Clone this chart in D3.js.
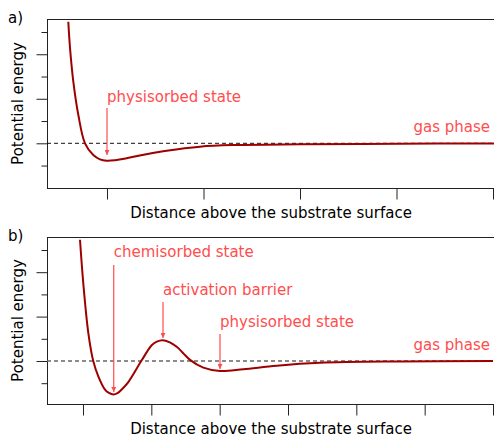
<!DOCTYPE html>
<html>
<head>
<meta charset="utf-8">
<script src="https://cdn.jsdelivr.net/npm/d3@7"></script>
<style>
  body { margin: 0; background: #fff; }
  svg { display: block; font-family: "DejaVu Sans", sans-serif; }
</style>
</head>
<body>
<svg id="chart" width="494" height="441"></svg>
<script>
// curve a: physisorption only (x in tick units, y in tick units)
const distA = [0.599, 0.617, 0.651, 0.703, 0.772, 0.858, 0.927, 0.997, 1.08, 1.238, 1.42, 1.619, 1.964, 2.306, 3.0, 4.036, 5.01];
const energyA = [5.46, 4.27, 2.77, 1.27, 0.0, -0.53, -0.72, -0.78, -0.76, -0.64, -0.48, -0.33, -0.15, -0.08, -0.045, -0.02, -0.005];

// curve b: chemisorption with activation barrier
const distB = [0.956, 1.004, 1.078, 1.151, 1.224, 1.322, 1.38, 1.443, 1.505, 1.58, 1.663, 1.859, 2.005, 2.08, 2.163, 2.271, 2.376, 2.47, 2.566, 2.761, 3.005, 3.346, 3.835, 4.468, 5.64, 7.0];
const energyB = [5.46, 3.51, 1.26, -0.01, -0.69, -1.29, -1.44, -1.51, -1.45, -1.24, -0.95, 0.03, 0.71, 0.87, 0.94, 0.84, 0.63, 0.34, 0.05, -0.30, -0.45, -0.37, -0.21, -0.08, -0.02, -0.005];

const xTicksA = [1, 2, 3, 4, 5];
const xTicksB = [1, 2, 3, 4, 5, 6, 7];
const yMajor = [0, 2, 4];
const yMinor = [-1, 1, 3, 5];

// annotations: x, arrow tip y, arrow start y, label baseline y (data units)
const notesA = [
  { text: "physisorbed state", x: 1.0, tip: -0.53, from: 1.59, label: 1.86 }
];
const notesB = [
  { text: "chemisorbed state", x: 1.45, tip: -1.40, from: 4.32, label: 4.68 },
  { text: "activation barrier", x: 2.171, tip: 1.04, from: 2.66, label: 2.97 },
  { text: "physisorbed state", x: 3.005, tip: -0.36, from: 1.22, label: 1.53 }
];
const gasA = { text: "gas phase", x: 4.97, label: 0.51 };
const gasB = { text: "gas phase", x: 6.956, label: 0.50 };

const red = '#ff4d4d';
const curveColor = '#9e0000';

const svg = d3.select('#chart');

const defs = svg.append('defs');
defs.append('marker')
  .attr('id', 'head')
  .attr('viewBox', '0 0 10 10')
  .attr('refX', 10).attr('refY', 5)
  .attr('markerWidth', 8).attr('markerHeight', 5)
  .attr('markerUnits', 'userSpaceOnUse')
  .attr('orient', 'auto')
  .append('path')
  .attr('d', 'M0,0L10,5L0,10Z')
  .attr('fill', red);

function drawPanel(p) {
  const g = svg.append('g');
  const x = d3.scaleLinear().domain([1, p.xTicks[p.xTicks.length - 1]]).range([p.x1, 493]);
  const y = d3.scaleLinear().domain([0, 5]).range([p.y0, p.y5]);

  // box
  g.append('rect')
    .attr('x', p.left + 0.5).attr('y', p.top + 0.5)
    .attr('width', 495 - p.left).attr('height', p.bottom - p.top)
    .attr('fill', 'none').attr('stroke', '#222').attr('stroke-width', 1);

  // axes (labels switched off, as in the original)
  const xa = g.append('g').attr('transform', `translate(0,${p.bottom + 0.5})`)
    .call(d3.axisBottom(x).tickValues(p.xTicks).tickSize(11).tickFormat(''));
  const ya1 = g.append('g').attr('transform', `translate(${p.left + 0.5},0)`)
    .call(d3.axisLeft(y).tickValues(yMajor).tickSize(11).tickFormat(''));
  const ya2 = g.append('g').attr('transform', `translate(${p.left + 0.5},0)`)
    .call(d3.axisLeft(y).tickValues(yMinor).tickSize(6).tickFormat(''));
  [xa, ya1, ya2].forEach(a => {
    a.select('.domain').remove();
    a.selectAll('line').attr('stroke', '#222');
  });

  // zero energy reference
  g.append('line')
    .attr('x1', p.left).attr('x2', 494)
    .attr('y1', y(0)).attr('y2', y(0))
    .attr('stroke', p.dashColor).attr('stroke-width', p.dashWidth)
    .attr('stroke-dasharray', p.dash);

  // potential curve
  const pts = p.xs.map((d, i) => [d, p.ys[i]]);
  g.append('path')
    .datum(pts)
    .attr('fill', 'none')
    .attr('stroke', curveColor)
    .attr('stroke-width', 2)
    .attr('d', d3.line().x(d => x(d[0])).y(d => y(d[1])).curve(d3.curveCatmullRom.alpha(0.5)));

  // annotations
  p.notes.forEach(n => {
    g.append('line')
      .attr('x1', x(n.x)).attr('x2', x(n.x))
      .attr('y1', y(n.from)).attr('y2', y(n.tip))
      .attr('stroke', red).attr('stroke-width', 1.2)
      .attr('marker-end', 'url(#head)');
    g.append('text')
      .attr('x', x(n.x)).attr('y', y(n.label))
      .attr('fill', red).attr('font-size', 15)
      .text(n.text);
  });
  g.append('text')
    .attr('x', x(p.gas.x)).attr('y', y(p.gas.label))
    .attr('text-anchor', 'end')
    .attr('fill', red).attr('font-size', 15)
    .text(p.gas.text);

  // titles
  g.append('text')
    .attr('x', 8).attr('y', p.top + 4)
    .attr('font-size', 15).attr('fill', '#000')
    .text(p.tag);
  g.append('text')
    .attr('transform', `translate(22.5,${(p.top + p.bottom) / 2}) rotate(-90)`)
    .attr('text-anchor', 'middle')
    .attr('font-size', 15).attr('fill', '#000')
    .text('Potential energy');
  g.append('text')
    .attr('x', 271).attr('y', p.bottom + 30)
    .attr('text-anchor', 'middle')
    .attr('font-size', 15).attr('fill', '#000')
    .text('Distance above the substrate surface');
}

drawPanel({
  tag: 'a)', left: 47, top: 19, bottom: 188,
  x1: 107, y0: 143.3, y5: 32,
  xTicks: xTicksA, xs: distA, ys: energyA,
  notes: notesA, gas: gasA,
  dashColor: '#111', dashWidth: 1, dash: '4,3'
});
drawPanel({
  tag: 'b)', left: 47, top: 237, bottom: 404,
  x1: 83, y0: 361, y5: 250,
  xTicks: xTicksB, xs: distB, ys: energyB,
  notes: notesB, gas: gasB,
  dashColor: '#666', dashWidth: 1.5, dash: '4,3'
});
</script>
</body>
</html>
